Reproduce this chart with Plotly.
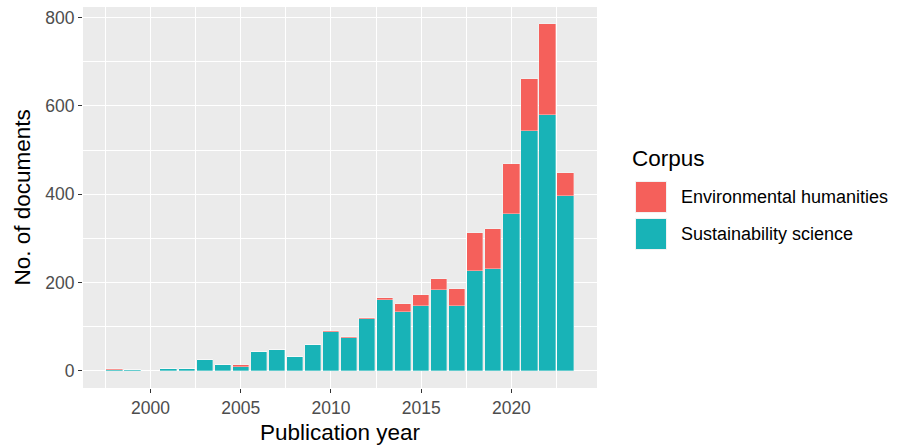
import plotly.graph_objects as go

years = list(range(1998, 2024))
sustainability = [2, 1, 0, 3, 3, 25, 12, 9, 42, 48, 31, 59, 88, 74, 117, 160, 132, 147, 182, 147, 226, 230, 355, 543, 579, 395]
environmental = [1, 0, 0, 0, 0, 0, 0, 3, 0, 0, 0, 0, 3, 2, 3, 4, 19, 25, 26, 39, 86, 90, 113, 119, 206, 52]
x_ticks = [2000, 2005, 2010, 2015, 2020]
y_ticks = [0, 200, 400, 600, 800]
series_names = ["Environmental humanities", "Sustainability science"]

RED = "#F5605B"
TEAL = "#18B3B7"
FONT = "Liberation Sans, Arial, Helvetica, sans-serif"
TICK_SIZE = 17.5
TITLE_SIZE = 22.5

fig = go.Figure()
fig.add_bar(x=years, y=sustainability, name=series_names[1], marker=dict(color=TEAL, line=dict(color="rgba(255,255,255,0.55)", width=0.6)), width=0.9, showlegend=False)
fig.add_bar(x=years, y=environmental, name=series_names[0], marker=dict(color=RED, line=dict(color="rgba(255,255,255,0.55)", width=0.6)), width=0.9, showlegend=False)

xmin, xmax = min(years) - 0.45, max(years) + 0.45
xpad = (xmax - xmin) * 0.05
ytop = max(s + e for s, e in zip(sustainability, environmental))
ypad = ytop * 0.05

fig.update_layout(
    barmode="stack",
    width=898, height=445,
    margin=dict(l=83, r=301, t=7, b=57),
    paper_bgcolor="white",
    plot_bgcolor="#EBEBEB",
    font=dict(family=FONT, size=TICK_SIZE, color="#4D4D4D"),
    bargap=0,
)
fig.update_xaxes(
    range=[xmin - xpad, xmax + xpad], automargin=False,
    tickvals=x_ticks, ticks="outside", ticklen=4, tickwidth=1.1, tickcolor="#333333",
    tickfont=dict(size=TICK_SIZE, color="#4D4D4D"),
    showgrid=True, gridcolor="white", gridwidth=1.2, zeroline=False, showline=False,
    minor=dict(tick0=1997.5, dtick=5, showgrid=True, gridcolor="white", gridwidth=0.5, ticks=""),
)
fig.update_yaxes(
    range=[-ypad, ytop + ypad], automargin=False,
    tickvals=y_ticks, ticks="outside", ticklen=4, tickwidth=1.1, tickcolor="#333333",
    tickfont=dict(size=TICK_SIZE, color="#4D4D4D"),
    showgrid=True, gridcolor="white", gridwidth=1.2, zeroline=False, showline=False,
    minor=dict(tick0=100, dtick=200, showgrid=True, gridcolor="white", gridwidth=0.5, ticks=""),
)

# axis titles
fig.add_annotation(xref="paper", yref="paper", x=0.5, y=0, xanchor="center", yanchor="middle",
                   yshift=-44, text="Publication year", showarrow=False,
                   font=dict(size=TITLE_SIZE, color="black", family=FONT))
fig.add_annotation(xref="paper", yref="paper", x=0, y=0.5, xanchor="center", yanchor="middle",
                   xshift=-61, text="No. of documents", textangle=-90, showarrow=False,
                   font=dict(size=TITLE_SIZE, color="black", family=FONT))

# manual ggplot-style legend
keys = [(series_names[0], RED, 174), (series_names[1], TEAL, 211)]
for name, col, off in keys:
    fig.add_shape(type="rect", xref="paper", yref="paper", xsizemode="pixel", ysizemode="pixel",
                  xanchor=1, yanchor=1, x0=38, x1=70, y0=-off, y1=-off - 32,
                  fillcolor="#F2F2F2", line=dict(width=0))
    fig.add_shape(type="rect", xref="paper", yref="paper", xsizemode="pixel", ysizemode="pixel",
                  xanchor=1, yanchor=1, x0=39, x1=69, y0=-off - 1, y1=-off - 31,
                  fillcolor=col, line=dict(width=0))
    fig.add_annotation(xref="paper", yref="paper", x=1, y=1, xanchor="left", yanchor="middle",
                       xshift=82, yshift=-off - 16, text=name, showarrow=False,
                       font=dict(size=18, color="black", family=FONT))
fig.add_annotation(xref="paper", yref="paper", x=1, y=1, xanchor="left", yanchor="middle",
                   xshift=33, yshift=-151, text="Corpus", showarrow=False,
                   font=dict(size=TITLE_SIZE, color="black", family=FONT))

fig.write_html("out.html", config={"displayModeBar": False},
               post_script="document.body.style.margin='0';document.body.style.overflow='hidden';")
